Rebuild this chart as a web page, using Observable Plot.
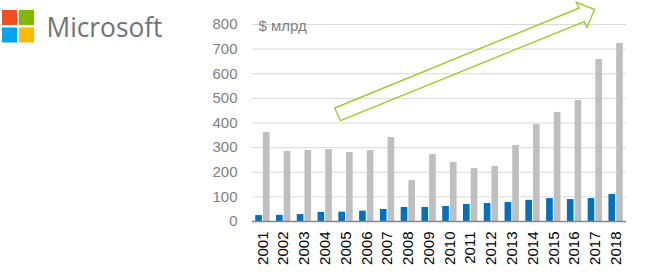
<!DOCTYPE html>
<html>
<head>
<meta charset="utf-8">
<script src="https://cdn.jsdelivr.net/npm/d3@7"></script>
<script src="https://cdn.jsdelivr.net/npm/@observablehq/plot@0.6"></script>
<style>
  html, body { margin: 0; padding: 0; background: #fff; }
  #wrap { position: relative; width: 648px; height: 279px; overflow: hidden; }
  #logo { position: absolute; left: 0; top: 0; }
  #chart { position: absolute; left: 0; top: 0; }
</style>
</head>
<body>
<div id="wrap">
  <div id="chart"></div>
  <svg id="logo" width="180" height="50">
    <rect x="2" y="10" width="15" height="15" fill="#f25022"></rect>
    <rect x="19" y="10" width="15" height="15" fill="#7fba00"></rect>
    <rect x="2" y="27.5" width="15" height="15" fill="#00a4ef"></rect>
    <rect x="19" y="27.5" width="15" height="15" fill="#ffb900"></rect>
    <text x="46.5" y="36.5" font-family="Open Sans, sans-serif" font-weight="500" font-size="28" fill="#737373" textLength="116" lengthAdjust="spacingAndGlyphs">Microsoft</text>
  </svg>
</div>
<script>
// ---- data ----
const years = [2001, 2002, 2003, 2004, 2005, 2006, 2007, 2008, 2009, 2010, 2011, 2012, 2013, 2014, 2015, 2016, 2017, 2018];
const revenue = [24, 25, 28, 37, 38, 42, 49, 57, 57, 61, 69, 73, 77, 86, 93, 89, 93, 110];
const marketCap = [361, 284, 288, 292, 280, 288, 341, 166, 272, 240, 215, 223, 309, 394, 443, 491, 658, 723];
const yTicks = [0, 100, 200, 300, 400, 500, 600, 700, 800];
const unitLabel = "$ млрд";
// arrow annotation outline, in data units (year, $ bn)
const arrowX = [2004.46, 2016.23, 2016.07, 2016.96, 2016.59, 2016.47, 2004.73, 2004.46];
const arrowY = [461, 867, 891, 861, 787, 812, 410, 461];

const table = years.map((y, i) => ({year: y, revenue: revenue[i], cap: marketCap[i]}));
const arrow = arrowX.map((x, i) => ({x, y: arrowY[i]}));

const chart = Plot.plot({
  width: 648,
  height: 279,
  marginLeft: 252,
  marginRight: 22,
  marginTop: 24,
  marginBottom: 58,
  style: {fontFamily: "'Liberation Sans', Arial, sans-serif", fontSize: "15px", background: "transparent"},
  x: {domain: [2000.5, 2018.5]},
  y: {domain: [0, 800]},
  marks: [
    Plot.gridY(yTicks, {stroke: "#d9d9d9", strokeOpacity: 1, strokeWidth: 1}),
    Plot.rectY(table, {x1: d => d.year - 0.345, x2: d => d.year - 0.025, y1: 0, y2: "revenue", fill: "#0070c0"}),
    Plot.rectY(table, {x1: d => d.year + 0.025, x2: d => d.year + 0.345, y1: 0, y2: "cap", fill: "#bfbfbf"}),
    Plot.ruleY([0], {stroke: "#868686", strokeWidth: 1.3}),
    Plot.axisY(yTicks, {tickSize: 0, tickPadding: 15, color: "#7f7f7f", fontSize: 15, label: null}),
    Plot.axisX(years, {tickSize: 0, tickPadding: 10, tickRotate: -90, tickFormat: d => String(d), color: "#000", fontSize: 15, label: null}),
    Plot.text([unitLabel], {frameAnchor: "top-left", textAnchor: "start", lineAnchor: "middle", dx: 6, dy: 2, fontSize: 15, fill: "#7f7f7f"}),
    Plot.line(arrow, {x: "x", y: "y", stroke: "#9ccc2c", strokeWidth: 1.4, curve: "linear"})
  ]
});
document.getElementById("chart").appendChild(chart);
</script>
</body>
</html>
